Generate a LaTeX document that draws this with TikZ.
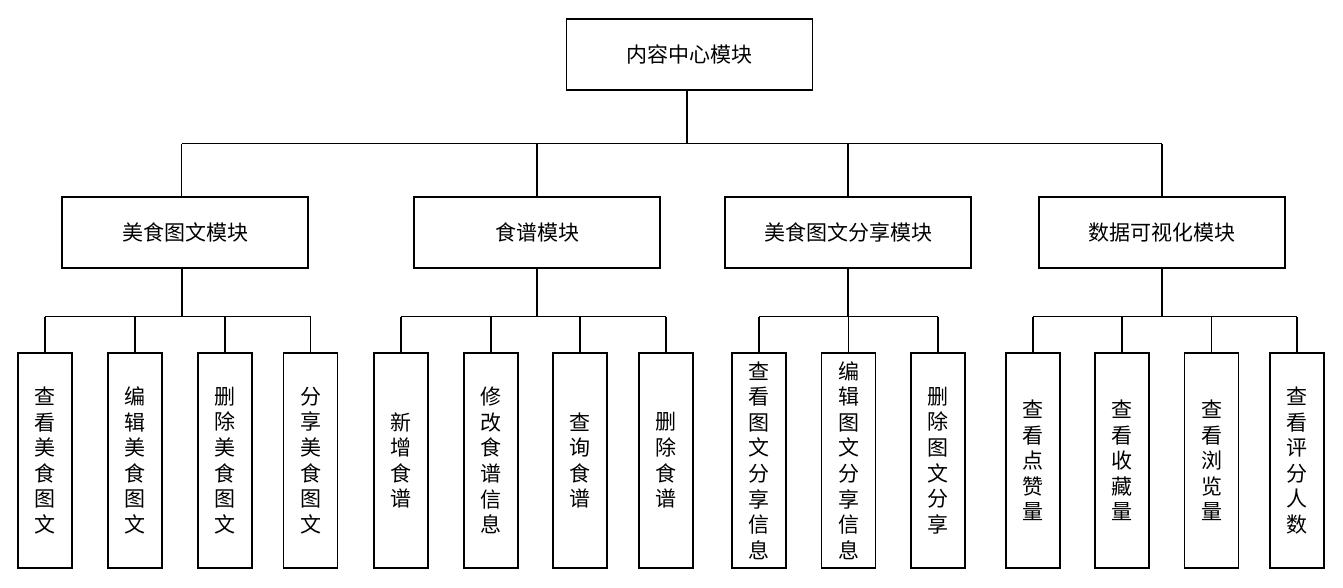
\documentclass[tikz,border=0pt]{standalone}
\usepackage{fontspec}
\newfontfamily\cjk{Noto Sans CJK SC}
\begin{document}
\begin{tikzpicture}[x=1pt,y=-1pt,
  box/.style={draw=black,line width=1.8pt,fill=white,inner sep=0pt,align=center,
    font=\cjk\fontsize{21}{25.6}\selectfont},
  modbox/.style={box,minimum width=246pt,minimum height=71pt},
  leafbox/.style={box,minimum width=54pt,minimum height=215pt},
  conn/.style={draw=black,line width=1.3pt}]
\useasboundingbox[fill=white] (0,0) rectangle (1343,587);

\node[modbox,minimum width=246pt] (top) at (689.5,54.5) {内容中心模块};

\node[modbox] (m1) at (185,232.5) {美食图文模块};
\node[modbox] (m2) at (537,232.5) {食谱模块};
\node[modbox] (m3) at (848,232.5) {美食图文分享模块};
\node[modbox] (m4) at (1162,232.5) {数据可视化模块};

% group 1
\node[leafbox] (a1) at (45,460.5) {查\\看\\美\\食\\图\\文};
\node[leafbox] (a2) at (135,460.5) {编\\辑\\美\\食\\图\\文};
\node[leafbox] (a3) at (225,460.5) {删\\除\\美\\食\\图\\文};
\node[leafbox] (a4) at (310.5,460.5) {分\\享\\美\\食\\图\\文};
% group 2
\node[leafbox] (b1) at (401,460.5) {新\\增\\食\\谱};
\node[leafbox] (b2) at (491,460.5) {修\\改\\食\\谱\\信\\息};
\node[leafbox] (b3) at (580,460.5) {查\\询\\食\\谱};
\node[leafbox] (b4) at (666,460.5) {删\\除\\食\\谱};
% group 3
\node[leafbox] (c1) at (759,460.5) {查\\看\\图\\文\\分\\享\\信\\息};
\node[leafbox] (c2) at (848.5,460.5) {编\\辑\\图\\文\\分\\享\\信\\息};
\node[leafbox] (c3) at (938,460.5) {删\\除\\图\\文\\分\\享};
% group 4
\node[leafbox] (d1) at (1033,460.5) {查\\看\\点\\赞\\量};
\node[leafbox] (d2) at (1122,460.5) {查\\看\\收\\藏\\量};
\node[leafbox] (d3) at (1211.5,460.5) {查\\看\\浏\\览\\量};
\node[leafbox] (d4) at (1297,460.5) {查\\看\\评\\分\\人\\数};

% top level connectors
\coordinate (tj) at ([xshift=-2.5pt]top.south);
\coordinate (m1j) at ([xshift=-3.5pt]m1.north);
\coordinate (m1s) at ([xshift=-3pt]m1.south);
\draw[conn] (tj) -- (tj |- 0,143.5);
\draw[conn] (m1j |- 0,143.5) -- (m4.north |- 0,143.5);
\draw[conn] (m1j) -- (m1j |- 0,143.5);
\foreach \m in {m2,m3,m4}{\draw[conn] (\m.north) -- (\m.north |- 0,143.5);}

% group connectors
\draw[conn] (m1s) -- (m1s |- 0,316.5);
\foreach \p/\first/\last/\list in {m2/b1/b4/{b1,b2,b3,b4},m3/c1/c3/{c1,c2,c3},m4/d1/d4/{d1,d2,d3,d4}}{
  \draw[conn] (\p.south) -- (\p.south |- 0,316.5);
}
\foreach \first/\last/\list in {a1/a4/{a1,a2,a3,a4},b1/b4/{b1,b2,b3,b4},c1/c3/{c1,c2,c3},d1/d4/{d1,d2,d3,d4}}{
  \draw[conn] (\first.north |- 0,316.5) -- (\last.north |- 0,316.5);
  \foreach \c in \list {\draw[conn] (\c.north) -- (\c.north |- 0,316.5);}
}
\end{tikzpicture}
\end{document}
